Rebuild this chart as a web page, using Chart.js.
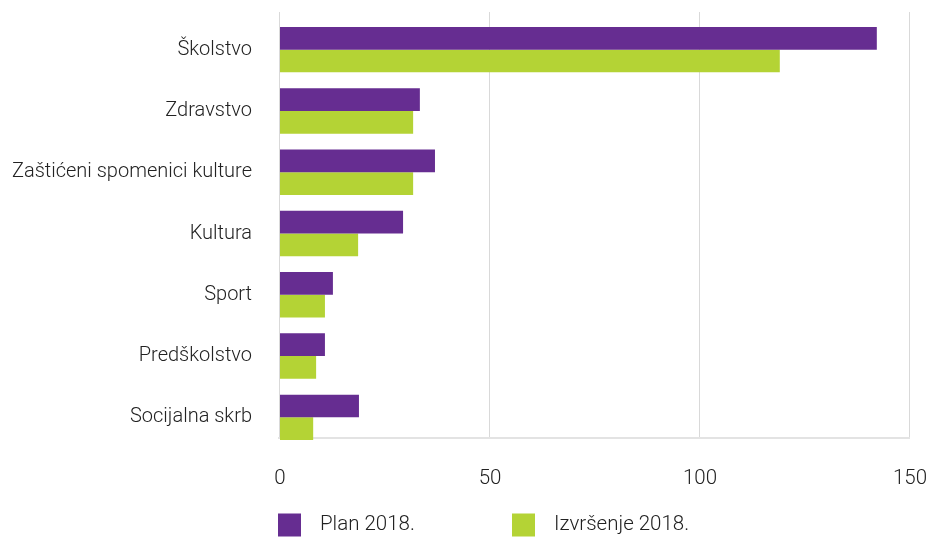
<!DOCTYPE html>
<html>
<head>
<meta charset="utf-8">
<script src="https://cdn.jsdelivr.net/npm/chart.js@4.4.1/dist/chart.umd.min.js"></script>
<style>
  html, body { margin: 0; padding: 0; background: #ffffff; }
  #wrap { width: 926px; height: 538px; position: relative; }
</style>
</head>
<body>
<div id="wrap"><canvas id="c" width="926" height="538"></canvas></div>
<script>
const categories = ["Školstvo", "Zdravstvo", "Zaštićeni spomenici kulture", "Kultura", "Sport", "Predškolstvo", "Socijalna skrb"];
const planValues = [142.1, 33.3, 36.9, 29.3, 12.6, 10.7, 18.8];
const izvrsenjeValues = [119.0, 31.7, 31.7, 18.6, 10.7, 8.6, 7.9];
const seriesNames = ["Plan 2018.", "Izvršenje 2018."];
const xTicks = [0, 50, 100, 150];

const PURPLE = "#662D91";
const GREEN = "#B4D335";
const FONT = "Roboto";
const TEXT = "#222222";

const gridPlugin = {
  id: 'customGrid',
  beforeDatasetsDraw(chart) {
    const { ctx, chartArea, scales: { x } } = chart;
    const top = chartArea.top - 7;
    const bottom = chartArea.bottom - 10;
    ctx.save();
    ctx.strokeStyle = "#d9d9d9";
    ctx.lineWidth = 1;
    xTicks.forEach(v => {
      const px = Math.round(x.getPixelForValue(v)) - 0.5;
      ctx.beginPath();
      ctx.moveTo(px, top);
      ctx.lineTo(px, bottom);
      ctx.stroke();
    });
    ctx.strokeStyle = "#e3e3e3";
    ctx.lineWidth = 2;
    ctx.beginPath();
    ctx.moveTo(x.getPixelForValue(0) - 2, bottom);
    ctx.lineTo(x.getPixelForValue(150), bottom);
    ctx.stroke();
    ctx.restore();
  }
};

const legendPlugin = {
  id: 'customLegend',
  afterDraw(chart) {
    const { ctx, chartArea } = chart;
    ctx.save();
    ctx.font = "300 20.5px " + FONT;
    ctx.fillStyle = TEXT;
    ctx.textBaseline = "middle";
    const cy = 525;
    chart.data.datasets.forEach((ds, i) => {
      const bx = chartArea.left - 2 + i * 234;
      ctx.fillStyle = ds.backgroundColor;
      ctx.fillRect(bx, cy - 11.5, 23, 23);
      ctx.fillStyle = TEXT;
      ctx.fillText(ds.label, bx + 42, cy);
    });
    ctx.restore();
  }
};

new Chart(document.getElementById('c'), {
  type: 'bar',
  data: {
    labels: categories,
    datasets: [
      { label: seriesNames[0], data: planValues, backgroundColor: PURPLE, borderWidth: 0 },
      { label: seriesNames[1], data: izvrsenjeValues, backgroundColor: GREEN, borderWidth: 0 }
    ]
  },
  options: {
    indexAxis: 'y',
    responsive: false,
    animation: false,
    devicePixelRatio: 1,
    layout: { padding: { left: 0, right: 16, top: 19, bottom: 40 } },
    datasets: { bar: { categoryPercentage: 0.741, barPercentage: 1.0 } },
    plugins: {
      legend: { display: false },
      tooltip: { enabled: false }
    },
    scales: {
      x: {
        min: 0, max: 150,
        afterBuildTicks: (s) => { s.ticks = xTicks.map(v => ({ value: v })); },
        afterFit: (s) => { s.height = 50; s.paddingLeft = 0; s.paddingRight = 0; },
        grid: { display: false, drawTicks: false },
        border: { display: false },
        ticks: { padding: 19, color: TEXT, font: { family: FONT, size: 20.5, weight: 300 } }
      },
      y: {
        afterFit: (s) => { s.width = 280; s.paddingTop = 0; s.paddingBottom = 0; },
        grid: { display: false, drawTicks: false },
        border: { display: false },
        ticks: { padding: 28, color: TEXT, font: { family: FONT, size: 20, weight: 300 } }
      }
    }
  },
  plugins: [gridPlugin, legendPlugin]
});
</script>
</body>
</html>
